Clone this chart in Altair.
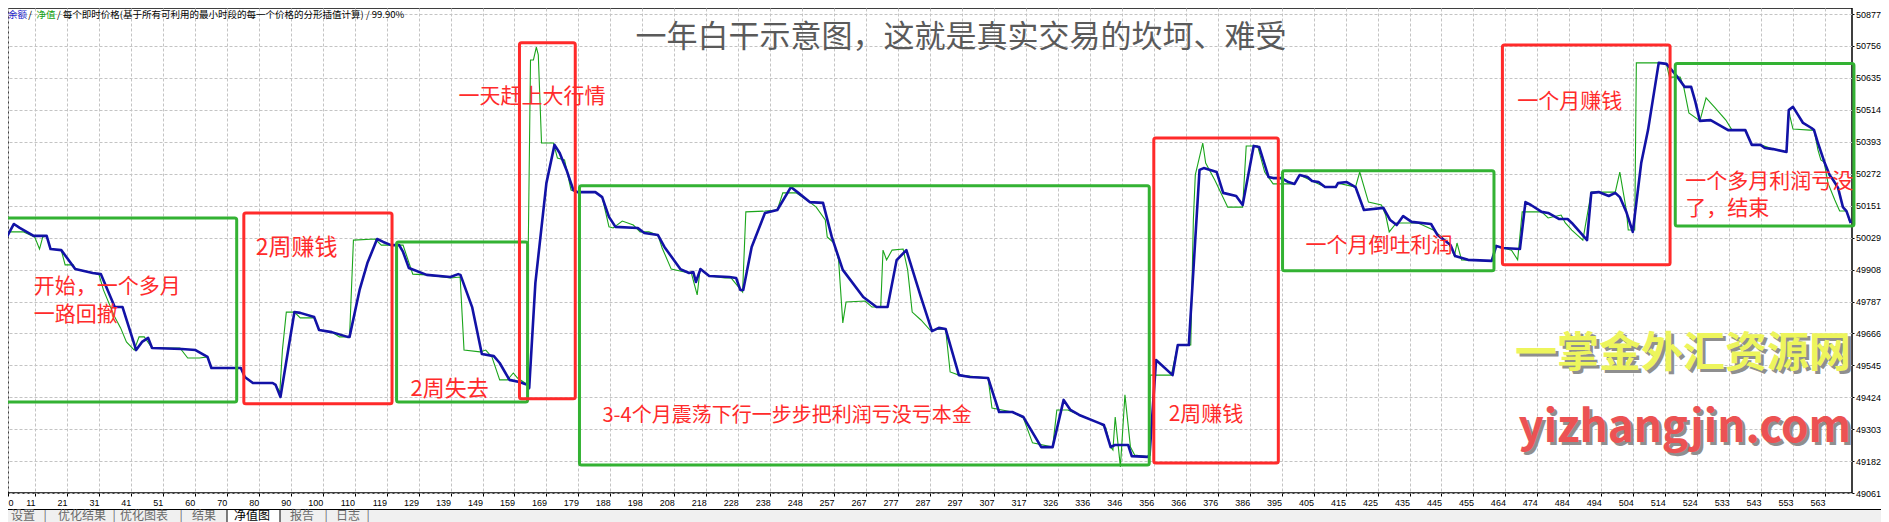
import json
import altair as alt
import pandas as pd

# ---------------- values ----------------
# x: trade number, y: account value
blue_x = [
    2.3, 5.0, 6.8, 11.1, 15.1, 16.3, 19.6, 21.4, 23.9, 29.3,
    31.8, 36.1, 38.5, 42.7, 44.5, 46.4, 47.6, 56.8, 61.0, 64.7,
    65.9, 68.9, 75.0, 76.2, 78.7, 84.8, 85.7, 87.2, 91.5, 93.3,
    97.6, 99.1, 103.0, 107.9, 108.5, 111.6, 114.0, 117.0, 118.9, 121.3,
    123.8, 125.0, 126.8, 132.3, 139.6, 142.0, 142.7, 146.3, 149.3, 153.0,
    154.8, 157.8, 160.9, 163.3, 163.9, 165.8, 169.2, 171.7, 173.3, 175.4,
    177.5, 178.8, 184.3, 186.4, 188.5, 190.5, 197.4, 199.4, 203.6, 205.6,
    210.5, 213.2, 214.5, 215.3, 216.7, 219.4, 225.6, 227.7, 229.0, 229.9,
    232.5, 236.6, 240.4, 244.6, 246.9, 250.4, 254.5, 257.2, 260.6, 266.9,
    271.0, 274.4, 277.2, 280.2, 284.7, 288.1, 290.2, 292.3, 296.4, 299.8,
    305.4, 308.8, 312.9, 316.3, 321.8, 325.3, 328.7, 330.8, 333.5, 339.7,
    341.1, 343.2, 344.5, 348.6, 349.7, 354.6, 355.2, 357.2, 362.3, 363.9,
    367.3, 370.6, 371.9, 375.9, 377.9, 381.9, 383.9, 387.3, 389.0, 391.9,
    393.3, 395.9, 398.0, 399.9, 401.5, 403.9, 405.3, 407.3, 409.3, 412.6,
    413.3, 416.0, 418.7, 421.3, 427.3, 429.4, 431.4, 433.4, 436.0, 442.0,
    444.0, 448.0, 449.4, 453.4, 460.7, 462.1, 464.1, 469.4, 471.1, 472.8,
    476.1, 478.1, 481.4, 484.1, 485.4, 490.1, 491.4, 493.7, 496.8, 498.8,
    500.2, 502.2, 504.2, 506.8, 508.9, 512.2, 514.6, 517.5, 520.2, 522.2,
    523.5, 524.9, 528.2, 533.6, 538.9, 540.9, 543.6, 544.9, 547.5, 551.6,
    552.3, 553.6, 555.2, 556.7, 559.3, 560.1, 561.3, 563.4, 564.9, 566.0,
    567.5, 569.0, 570.1, 571.4,
]
blue_y = [
    50020, 50081, 50066, 50036, 50036, 49986, 49982, 49952, 49910, 49895,
    49891, 49766, 49766, 49603, 49634, 49649, 49611, 49607, 49603, 49577,
    49535, 49535, 49535, 49501, 49478, 49478, 49471, 49425, 49747, 49744,
    49728, 49679, 49671, 49653, 49653, 49831, 49933, 50024, 50013, 50001,
    50001, 49975, 49914, 49888, 49880, 49891, 49888, 49766, 49588, 49580,
    49554, 49490, 49482, 49471, 49459, 49857, 50236, 50381, 50350, 50286,
    50210, 50202, 50202, 50183, 50108, 50070, 50066, 50047, 50039, 49994,
    49910, 49895, 49899, 49861, 49910, 49884, 49880, 49876, 49831, 49831,
    49994, 50123, 50134, 50221, 50199, 50164, 50161, 50032, 49907, 49804,
    49766, 49766, 49944, 49982, 49804, 49675, 49687, 49683, 49508, 49501,
    49497, 49368, 49368, 49349, 49235, 49235, 49414, 49376, 49357, 49326,
    49319, 49235, 49243, 49243, 49201, 49198, 49205, 49565, 49508, 49622,
    49622, 50286, 50293, 50278, 50199, 50187, 50153, 50377, 50373, 50259,
    50255, 50255, 50240, 50233, 50267, 50259, 50244, 50240, 50221, 50221,
    50236, 50240, 50221, 50134, 50142, 50096, 50077, 50111, 50089, 50081,
    50039, 50001, 49960, 49945, 49941, 49998, 49990, 49986, 50164, 50153,
    50127, 50123, 50100, 50100, 50085, 50020, 50199, 50202, 50187, 50199,
    50183, 50127, 50051, 50312, 50437, 50692, 50688, 50646, 50601, 50601,
    50544, 50472, 50475, 50437, 50437, 50381, 50381, 50369, 50365, 50354,
    50513, 50525, 50494, 50464, 50445, 50437, 50388, 50312, 50267, 50248,
    50218, 50145, 50130, 50085,
]
green_x = [
    2.3, 2.9, 8.0, 11.4, 12.9, 13.9, 15.1, 16.3, 19.6, 20.8,
    23.3, 23.9, 31.2, 32.6, 36.1, 37.9, 39.7, 42.1, 43.6, 45.2,
    47.6, 56.2, 58.6, 62.2, 64.7, 65.9, 75.0, 76.2, 78.7, 84.8,
    85.7, 87.0, 87.8, 89.0, 91.5, 93.3, 97.6, 99.1, 103.0, 105.4,
    108.5, 109.7, 116.4, 118.3, 123.8, 125.0, 128.0, 132.3, 139.6, 142.6,
    143.8, 148.7, 150.5, 152.4, 154.8, 157.2, 159.0, 160.3, 163.1, 164.3,
    165.2, 166.1, 166.7, 167.7, 171.4, 172.6, 174.8, 176.8, 178.8, 184.3,
    186.4, 188.5, 189.8, 192.6, 196.0, 198.1, 200.8, 203.6, 204.9, 207.7,
    211.8, 213.9, 215.7, 216.6, 219.4, 224.2, 226.2, 229.7, 230.7, 236.6,
    240.4, 242.1, 246.2, 250.4, 252.4, 255.2, 255.8, 257.9, 259.3, 260.6,
    261.6, 267.5, 269.6, 272.3, 273.0, 274.1, 275.8, 279.2, 280.6, 282.0,
    284.7, 287.5, 292.3, 293.7, 296.4, 305.4, 306.6, 312.9, 316.3, 319.1,
    325.3, 326.6, 330.0, 333.5, 339.7, 341.7, 343.2, 343.9, 344.6, 346.2,
    347.6, 349.3, 350.6, 355.0, 355.4, 361.9, 363.9, 367.9, 368.7, 369.3,
    371.6, 372.5, 375.3, 379.3, 383.9, 385.0, 388.5, 390.7, 393.3, 398.0,
    399.9, 401.5, 405.3, 409.3, 412.6, 413.3, 418.7, 420.0, 422.7, 426.7,
    428.0, 429.1, 431.3, 438.0, 442.7, 447.4, 449.2, 450.0, 451.4, 460.7,
    462.1, 466.8, 468.7, 470.1, 476.1, 478.1, 482.1, 483.4, 485.4, 488.8,
    491.4, 498.8, 500.2, 502.2, 502.8, 504.8, 505.3, 512.2, 514.6, 515.5,
    518.8, 519.9, 521.5, 524.9, 526.8, 529.6, 532.9, 534.8, 538.9, 540.9,
    543.6, 547.5, 551.6, 552.3, 552.7, 553.6, 558.8, 560.1, 561.3, 562.2,
    563.2, 564.4, 566.5, 568.0, 570.1, 571.1,
]
green_y = [
    50020, 50051, 50051, 50032, 49986, 50032, 50036, 49986, 49982, 49926,
    49926, 49910, 49891, 49831, 49728, 49687, 49634, 49603, 49653, 49653,
    49611, 49611, 49573, 49573, 49577, 49535, 49535, 49501, 49478, 49478,
    49471, 49444, 49603, 49747, 49747, 49725, 49725, 49679, 49671, 49653,
    49653, 50020, 50024, 50001, 50001, 50001, 49891, 49888, 49876, 49880,
    49603, 49596, 49603, 49577, 49490, 49490, 49516, 49497, 49474, 50703,
    50703, 50752, 50722, 50388, 50388, 50331, 50324, 50210, 50202, 50202,
    50183, 50070, 50066, 50092, 50077, 50051, 50051, 50039, 49990, 49910,
    49899, 49895, 49812, 49910, 49884, 49876, 49876, 49823, 50127, 50130,
    50134, 50199, 50199, 50164, 50145, 50096, 50032, 50009, 49945, 49706,
    49785, 49789, 49766, 49766, 49982, 49945, 49982, 49986, 49907, 49747,
    49717, 49679, 49683, 49520, 49508, 49497, 49383, 49368, 49345, 49251,
    49235, 49376, 49376, 49357, 49326, 49308, 49235, 49224, 49349, 49160,
    49433, 49235, 49205, 49198, 49508, 49508, 49622, 49622, 50096, 50267,
    50388, 50312, 50248, 50145, 50145, 50377, 50377, 50278, 50233, 50233,
    50233, 50267, 50244, 50221, 50221, 50236, 50221, 50278, 50164, 50153,
    50115, 50051, 50085, 50085, 50058, 50009, 49960, 50009, 49945, 49941,
    49998, 49982, 49945, 50127, 50127, 50104, 50115, 50085, 50058, 50020,
    50202, 50202, 50278, 50134, 50058, 50058, 50692, 50692, 50688, 50638,
    50638, 50601, 50502, 50472, 50559, 50521, 50475, 50437, 50437, 50381,
    50381, 50365, 50354, 50513, 50487, 50441, 50437, 50437, 50362, 50324,
    50316, 50236, 50172, 50130, 50130, 50089,
]

# axis labels
x_tick_labels = [
    "0", "11", "21", "31", "41", "51", "60", "70", "80", "90", "100", "110",
    "119", "129", "139", "149", "159", "169", "179", "188", "198", "208",
    "218", "228", "238", "248", "257", "267", "277", "287", "297", "307",
    "317", "326", "336", "346", "356", "366", "376", "386", "395", "405",
    "415", "425", "435", "445", "455", "464", "474", "484", "494", "504",
    "514", "524", "533", "543", "553", "563",
]
y_tick_values = [50877, 50756, 50635, 50514, 50393, 50272, 50151, 50029,
                 49908, 49787, 49666, 49545, 49424, 49303, 49182, 49061]

# highlighted periods (boxes)
box_kind = ["green", "red", "green", "red", "green", "red", "green", "red", "green"]
box_x0 = [2.2, 75.9, 123.0, 160.9, 179.4, 356.5, 396.2, 464.0, 517.3]
box_x1 = [73.7, 121.6, 163.4, 178.1, 355.1, 394.9, 461.4, 515.7, 572.4]
box_y0 = [49406, 49399, 49406, 49418, 49167, 49175, 49904, 49926, 50073]
box_y1 = [50104, 50123, 50013, 50768, 50226, 50407, 50283, 50760, 50690]

# notes
note_text = ["开始，一个多月", "一路回撤", "2周赚钱", "2周失去", "一天赶上大行情",
             "3-4个月震荡下行一步步把利润亏没亏本金", "2周赚钱", "一个月倒吐利润",
             "一个月赚钱", "一个多月利润亏没", "了，结束"]
note_x = [11.1, 11.1, 79.6, 127.3, 142.1, 186.5, 361.1, 403.3, 468.6, 520.4, 520.4]
note_y = [49842, 49736, 49990, 49455, 50563, 49353, 49357, 49998, 50544, 50240, 50138]
note_size = [21, 21, 23, 22, 21, 20, 21, 21, 21, 21, 21]

title_text = "一年白干示意图，这就是真实交易的坎坷、难受"
header_parts = ["余额", "/", "净值", "/ 每个即时价格(基于所有可利用的最小时段的每一个价格的分形插值计算) / 99.90%"]
tab_names = ["设置", "|", "优化结果", "|", "优化图表", "|", "结果", "净值图", "报告", "|", "日志", "|"]

# ---------------- chart ----------------
W, H = 1844, 485
CJK = "Noto Sans CJK SC"
BLUE = "#1212a6"
GREEN = "#1ba51b"

xs = alt.Scale(domain=[3.18, 571.8], nice=False, zero=False)
ys = alt.Scale(domain=[49061, 50900], nice=False, zero=False)

tick_pos = [3.18] + [round(11.5 + 9.857 * k, 3) for k in range(len(x_tick_labels) - 1)]
lab_arr = json.dumps(x_tick_labels[1:])

x_axis = alt.Axis(
    values=tick_pos,
    labelExpr=f"datum.value < 8 ? '0' : {lab_arr}[round((datum.value - 11.5) / 9.857)]",
    title=None, domain=False, grid=True, gridColor="#c4c4c4", gridDash=[3, 2], gridWidth=1,
    ticks=True, tickSize=3, tickColor="#000000",
    labelAlign={"condition": {"test": "datum.value < 8", "value": "left"}, "value": "right"},
    labelPadding=2, labelFont="Liberation Sans Narrow, Arial Narrow, Liberation Sans",
    labelFontSize=9, labelColor="#000000", labelOverlap=False, labelFlush=False,
)
y_axis = alt.Axis(
    orient="right", values=y_tick_values, format="d", title=None, domain=False,
    grid=True, gridColor="#c4c4c4", gridDash=[3, 2], gridWidth=1,
    ticks=True, tickSize=2, tickColor="#000000", labelAlign="left", labelPadding=1.5,
    labelFont="Liberation Sans", labelFontSize=9, labelColor="#000000",
    labelOverlap=False, labelFlush=False,
)

green_df = pd.DataFrame({"x": green_x, "y": green_y, "i": list(range(len(green_x)))})
blue_df = pd.DataFrame({"x": blue_x, "y": blue_y, "i": list(range(len(blue_x)))})
box_df = pd.DataFrame({"kind": box_kind, "x0": box_x0, "x1": box_x1, "y0": box_y0, "y1": box_y1})
note_df = pd.DataFrame({"t": note_text, "x": note_x, "y": note_y, "s": note_size})

X = lambda f: alt.X(f, scale=xs, axis=x_axis)
Y = lambda f: alt.Y(f, scale=ys, axis=y_axis)

green = alt.Chart(green_df).mark_line(color=GREEN, strokeWidth=1.1).encode(
    x=X("x:Q"), y=Y("y:Q"), order="i:Q",
)
blue = alt.Chart(blue_df).mark_line(color=BLUE, strokeWidth=2.6, strokeJoin="round").encode(
    x=X("x:Q"), y=Y("y:Q"), order="i:Q",
)
boxes = alt.Chart(box_df).mark_rect(fillOpacity=0, strokeWidth=3, cornerRadius=2).encode(
    x=X("x0:Q"), x2="x1:Q", y=Y("y0:Q"), y2="y1:Q",
    stroke=alt.Color("kind:N", scale=alt.Scale(domain=["green", "red"], range=["#33b233", "#ff2a2a"]), legend=None),
)
notes = alt.Chart(note_df).mark_text(align="left", baseline="middle", font=CJK, color="#ff2b2b").encode(
    x=X("x:Q"), y=Y("y:Q"), text="t:N",
    size=alt.Size("s:Q", scale=None, legend=None),
)


def txt(text, x, y, **kw):
    return alt.Chart(pd.DataFrame({"t": [text]})).mark_text(**kw).encode(
        x=alt.value(x), y=alt.value(y), text="t:N")


def one():
    return alt.Chart(pd.DataFrame({"k": [0]}))


layers = [green, blue, boxes, notes]

# title
layers.append(txt(title_text, 953, 29.5, font=CJK, fontSize=31, color="#5a5a5a", align="center", baseline="middle"))

# watermark
layers.append(txt("一掌金外汇资源网", 1846, 349, font=CJK, fontSize=42, fontWeight="bold", color="#8f8f8f", align="right", baseline="middle"))
layers.append(txt("一掌金外汇资源网", 1843, 346, font=CJK, fontSize=42, fontWeight="bold", color="#edf55c", align="right", baseline="middle"))
layers.append(txt("yizhangjin.com", 1846, 437, font=CJK, fontSize=44, fontWeight="bold", color="#8f8f8f", align="right", baseline="alphabetic"))
layers.append(txt("yizhangjin.com", 1843, 434, font=CJK, fontSize=44, fontWeight="bold", color="#ec5253", align="right", baseline="alphabetic"))

# header
HY = 7
layers.append(txt(header_parts[0], 0, HY, font=CJK, fontSize=9.5, color="#1a1ac8", align="left", baseline="middle"))
layers.append(txt(header_parts[1], 22, HY, font=CJK, fontSize=9.5, color="#000000", align="center", baseline="middle"))
layers.append(txt(header_parts[2], 28.5, HY, font=CJK, fontSize=9.5, color="#10a010", align="left", baseline="middle"))
layers.append(txt(header_parts[3], 49, HY, font=CJK, fontSize=9.5, color="#000000", align="left", baseline="middle"))

# tab bar
layers.append(one().mark_rect(color="#f0f0f0").encode(x=alt.value(-8), x2=alt.value(1881), y=alt.value(501), y2=alt.value(522)))
layers.append(one().mark_rule(color="#000000", strokeWidth=1).encode(x=alt.value(-8), x2=alt.value(1881), y=alt.value(501.5)))
layers.append(one().mark_rect(color="#ffffff", stroke="#000000", strokeWidth=1).encode(x=alt.value(219), x2=alt.value(272), y=alt.value(501.5), y2=alt.value(530)))
tab_x = [15, 37, 74, 106, 136, 173, 196, 244, 294, 318, 340, 360]
for name, tx in zip(tab_names, tab_x):
    col = "#000000" if name == "净值图" else "#6a6a6a"
    layers.append(txt(name, tx, 507.5, font=CJK, fontSize=12, color=col, align="center", baseline="middle"))

chart = alt.layer(*layers).properties(
    width=W, height=H,
    padding={"left": 0, "top": 0, "right": 29, "bottom": 29},
    autosize=alt.AutoSizeParams(type="none"),
    background="#ffffff",
).configure_view(stroke="#000000", strokeWidth=1.5)

chart.save("out.html", embed_options={"renderer": "svg", "actions": False})
